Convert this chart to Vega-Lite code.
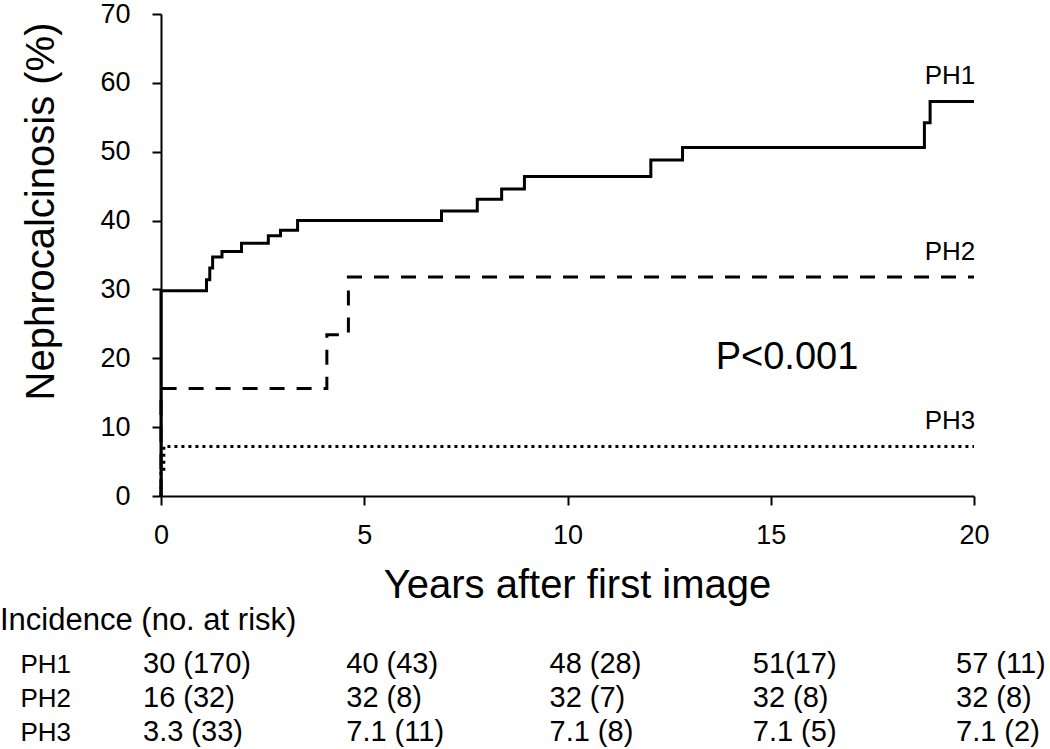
{
  "$schema": "https://vega.github.io/schema/vega-lite/v6.json",
  "padding": 0,
  "autosize": {"type": "pad"},
  "background": "white",
  "config": {
    "font": "Liberation Sans",
    "view": {"stroke": null},
    "axis": {"domainColor": "black", "tickColor": "black", "labelColor": "black", "titleColor": "black", "titleFontWeight": "normal", "grid": false, "labelFont": "Liberation Sans", "titleFont": "Liberation Sans"},
    "text": {"color": "black", "font": "Liberation Sans"}
  },
  "datasets": {
    "km": [
      {"group": "PH1", "t": 0, "v": 0},
      {"group": "PH1", "t": 0, "v": 29.8},
      {"group": "PH1", "t": 1.12, "v": 31.4},
      {"group": "PH1", "t": 1.2, "v": 33.1},
      {"group": "PH1", "t": 1.27, "v": 34.7},
      {"group": "PH1", "t": 1.5, "v": 35.5},
      {"group": "PH1", "t": 1.98, "v": 36.7},
      {"group": "PH1", "t": 2.64, "v": 37.8},
      {"group": "PH1", "t": 2.94, "v": 38.6},
      {"group": "PH1", "t": 3.36, "v": 40.0},
      {"group": "PH1", "t": 6.9, "v": 41.4},
      {"group": "PH1", "t": 7.78, "v": 43.1},
      {"group": "PH1", "t": 8.38, "v": 44.6},
      {"group": "PH1", "t": 8.94, "v": 46.4},
      {"group": "PH1", "t": 12.05, "v": 48.8},
      {"group": "PH1", "t": 12.83, "v": 50.6},
      {"group": "PH1", "t": 18.78, "v": 54.2},
      {"group": "PH1", "t": 18.92, "v": 57.3},
      {"group": "PH1", "t": 20, "v": 57.3},
      {"group": "PH2", "t": 0, "v": 0},
      {"group": "PH2", "t": 0, "v": 15.6},
      {"group": "PH2", "t": 4.08, "v": 23.4},
      {"group": "PH2", "t": 4.61, "v": 31.8},
      {"group": "PH2", "t": 20, "v": 31.8},
      {"group": "PH3", "t": 0, "v": 0},
      {"group": "PH3", "t": 0, "v": 3.3},
      {"group": "PH3", "t": 0.07, "v": 7.2},
      {"group": "PH3", "t": 20, "v": 7.2}
    ],
    "table": [
      {"group": "PH1", "year": 0, "label": "30 (170)"},
      {"group": "PH1", "year": 5, "label": "40 (43)"},
      {"group": "PH1", "year": 10, "label": "48 (28)"},
      {"group": "PH1", "year": 15, "label": "51(17)"},
      {"group": "PH1", "year": 20, "label": "57 (11)"},
      {"group": "PH2", "year": 0, "label": "16 (32)"},
      {"group": "PH2", "year": 5, "label": "32 (8)"},
      {"group": "PH2", "year": 10, "label": "32 (7)"},
      {"group": "PH2", "year": 15, "label": "32 (8)"},
      {"group": "PH2", "year": 20, "label": "32 (8)"},
      {"group": "PH3", "year": 0, "label": "3.3 (33)"},
      {"group": "PH3", "year": 5, "label": "7.1 (11)"},
      {"group": "PH3", "year": 10, "label": "7.1 (8)"},
      {"group": "PH3", "year": 15, "label": "7.1 (5)"},
      {"group": "PH3", "year": 20, "label": "7.1 (2)"}
    ]
  },
  "spacing": 0,
  "vconcat": [
    {
      "width": 813,
      "height": 482,
      "layer": [
        {
          "data": {"name": "km"},
          "mark": {"type": "line", "interpolate": "step-after", "strokeWidth": 3, "color": "black", "strokeCap": "butt"},
          "encoding": {
            "x": {"field": "t", "type": "quantitative", "scale": {"domain": [0, 20], "nice": false},
                  "axis": {"values": [0, 5, 10, 15, 20], "title": "Years after first image", "titleFontSize": 40, "titlePadding": 17, "titleX": 416,
                           "labelFontSize": 27, "labelPadding": 17, "labelFlush": false, "tickSize": 9, "tickWidth": 2, "domainWidth": 2}},
            "y": {"field": "v", "type": "quantitative", "scale": {"domain": [0, 70], "nice": false},
                  "axis": {"values": [0, 10, 20, 30, 40, 50, 60, 70], "title": "Nephrocalcinosis (%)", "titleFontSize": 40, "titlePadding": 38, "titleY": 197,
                           "labelFontSize": 27, "labelPadding": 22, "tickSize": 9, "tickWidth": 2, "domainWidth": 2}},
            "strokeDash": {"field": "group", "type": "nominal", "scale": {"domain": ["PH1", "PH2", "PH3"], "range": [[1, 0], [15, 12], [3, 4]]}, "legend": null}
          }
        },
        {
          "data": {"name": "km"},
          "transform": [{"filter": "datum.t == 20"}],
          "mark": {"type": "text", "dx": -24, "dy": -25, "fontSize": 26, "align": "center", "baseline": "middle"},
          "encoding": {
            "x": {"field": "t", "type": "quantitative"},
            "y": {"field": "v", "type": "quantitative"},
            "text": {"field": "group"}
          }
        },
        {
          "data": {"values": [{"t": 15.4, "v": 20, "label": "P<0.001"}]},
          "mark": {"type": "text", "fontSize": 38, "align": "center", "baseline": "middle"},
          "encoding": {
            "x": {"field": "t", "type": "quantitative"},
            "y": {"field": "v", "type": "quantitative"},
            "text": {"field": "label"}
          }
        }
      ]
    },
    {
      "width": 813,
      "height": 102,
      "data": {"name": "table"},
      "title": {"text": "Incidence (no. at risk)", "anchor": "start", "frame": "group", "dx": -161, "fontSize": 31, "fontWeight": "normal", "font": "Liberation Sans", "color": "black", "offset": 10},
      "mark": {"type": "text", "align": "left", "dx": -18, "fontSize": 29, "baseline": "middle"},
      "encoding": {
        "x": {"field": "year", "type": "quantitative", "scale": {"domain": [0, 20], "nice": false}, "axis": null},
        "y": {"field": "group", "type": "nominal", "scale": {"type": "point", "padding": 0.5},
              "axis": {"title": null, "domain": false, "ticks": false, "tickSize": 0, "labelAlign": "left", "labelPadding": 141, "labelFontSize": 26}},
        "text": {"field": "label"}
      }
    }
  ]
}
